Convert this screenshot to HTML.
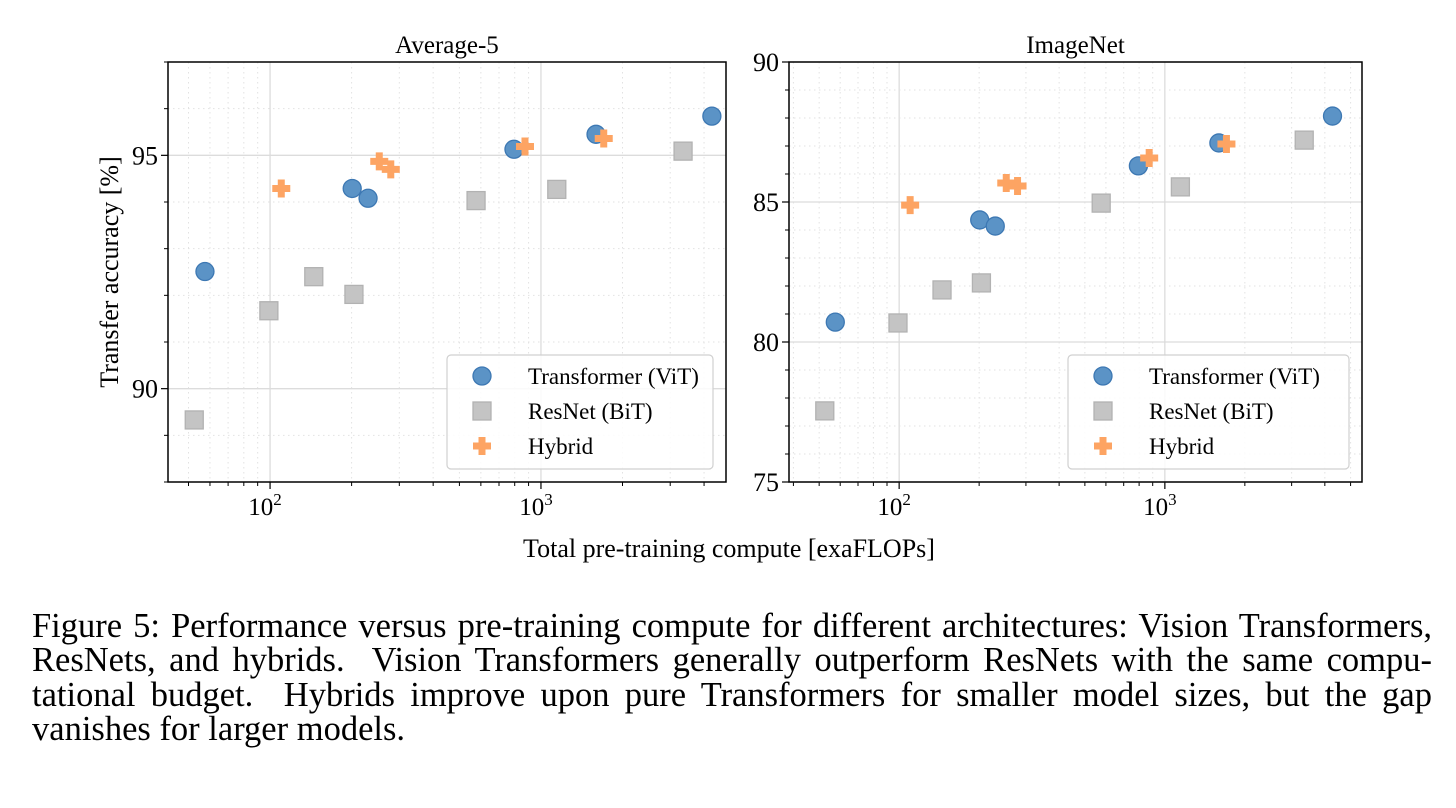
<!DOCTYPE html>
<html><head><meta charset="utf-8"><style>
body{margin:0;background:#fff;width:1456px;height:808px;overflow:hidden}
svg{font-family:"Liberation Serif",serif}
.cap{position:absolute;left:32px;top:609px;width:1400px;font-family:"Liberation Serif",serif;font-size:34.5px;line-height:34.3px;color:#000}
.cap div{text-align:justify;text-align-last:justify;white-space:nowrap}
.cap div.last{text-align-last:left}
</style></head><body>
<svg id="chart" width="1456" height="600" style="position:absolute;left:0;top:0"></svg>
<div class="cap">
<div style="white-space:normal">Figure 5: Performance versus pre-training compute for different architectures: Vision Transformers,</div>
<div style="white-space:normal">ResNets, and hybrids. &nbsp;Vision Transformers generally outperform ResNets with the same compu-</div>
<div style="white-space:normal">tational budget. &nbsp;Hybrids improve upon pure Transformers for smaller model sizes, but the gap</div>
<div class="last">vanishes for larger models.</div>
</div>
<script>
const vitX=[57.5,201,230,795,1597,4275];
const vitAvg=[92.51,94.29,94.08,95.13,95.45,95.84];
const vitIN=[80.71,84.36,84.14,86.29,87.11,88.07];
const resX=[52.5,99,145,204,576,1144,3346];
const resAvg=[89.33,91.67,92.40,92.02,94.03,94.27,95.09];
const resIN=[77.54,80.68,81.86,82.11,84.96,85.54,87.21];
const hybX=[110,253,279,873,1705];
const hybAvg=[94.29,94.87,94.70,95.19,95.36];
const hybIN=[84.89,85.68,85.57,86.57,87.07];
const avgTicks=[90,95];
const inTicks=[75,80,85,90];
const xTickLabels=["10","10"];

const NS="http://www.w3.org/2000/svg";
const svg=document.getElementById('chart');
function mk(t,a,p){const e=document.createElementNS(NS,t);for(const k in a)e.setAttribute(k,a[k]);(p||svg).appendChild(e);return e;}

function panel(cfg){
  const {x0,x1,y0,y1,xmin,xmax,ymin,ymax,title,ticks,vit,res,hyb,name,lx}=cfg;
  const g=mk('g',{});
  
  
  const X=v=>x0+(Math.log10(v)-Math.log10(xmin))/(Math.log10(xmax)-Math.log10(xmin))*(x1-x0);
  const Y=v=>y1-(v-ymin)/(ymax-ymin)*(y1-y0);
  for(let d=1;d<=3;d++)for(let m=1;m<10;m++){const v=m*Math.pow(10,d);if(v<xmin||v>xmax)continue;const x=X(v);
    if(m===1){mk('line',{x1:x,x2:x,y1:y0,y2:y1,stroke:'#dcdcdc','stroke-width':1.3},g);mk('line',{x1:x,x2:x,y1:y1,y2:y1+7,stroke:'#000','stroke-width':1.2},g);}
    else{mk('line',{x1:x,x2:x,y1:y0,y2:y1,stroke:'#e2e2e2','stroke-width':1,'stroke-dasharray':'1.5,3.5'},g);mk('line',{x1:x,x2:x,y1:y1,y2:y1+4,stroke:'#000','stroke-width':1},g);}
  }
  for(let v=Math.ceil(ymin);v<=ymax;v++){const y=Y(v);
    if(ticks.includes(v)){mk('line',{x1:x0,x2:x1,y1:y,y2:y,stroke:'#dcdcdc','stroke-width':1.3},g);mk('line',{x1:x0-7,x2:x0,y1:y,y2:y,stroke:'#000','stroke-width':1.2},g);
      const t=mk('text',{x:x0-10,y:y+9,'text-anchor':'end','font-size':26},g);t.textContent=v;}
    else{mk('line',{x1:x0,x2:x1,y1:y,y2:y,stroke:'#e2e2e2','stroke-width':1,'stroke-dasharray':'1.5,3.5'},g);mk('line',{x1:x0-4,x2:x0,y1:y,y2:y,stroke:'#000','stroke-width':1},g);}
  }
  [[100,'2'],[1000,'3']].forEach(([v,e],i)=>{const x=X(v);const t=mk('text',{x:x-5,y:y1+33,'text-anchor':'middle','font-size':25},g);t.textContent=xTickLabels[i];const s=mk('tspan',{dy:-10,'font-size':17},t);s.textContent=e;});
  mk('rect',{x:x0,y:y0,width:x1-x0,height:y1-y0,fill:'none',stroke:'#000','stroke-width':1.5},g);
  const tt=mk('text',{x:(x0+x1)/2,y:y0-9,'text-anchor':'middle','font-size':25},g);tt.textContent=title;
  const circ=(cx,cy,p)=>mk('circle',{cx,cy,r:9,fill:'#5b93c6',stroke:'#3d78b3','stroke-width':1.3},p);
  const sq=(cx,cy,p)=>mk('rect',{x:cx-9,y:cy-9,width:18,height:18,fill:'#c4c4c4',stroke:'#b2b2b2','stroke-width':1.3},p);
  const plus=(cx,cy,p)=>mk('path',{d:`M${cx-3.5},${cy-9}h7v5.5h5.5v7h-5.5v5.5h-7v-5.5h-5.5v-7h5.5z`,fill:'#fda463'},p);
  res.y.forEach((v,i)=>{const e=sq(X(res.x[i]),Y(v),g);});
  vit.y.forEach((v,i)=>{const e=circ(X(vit.x[i]),Y(v),g);});
  hyb.y.forEach((v,i)=>{const e=plus(X(hyb.x[i]),Y(v),g);});
  const ly=y1-127;
  const lg=mk('g',{},g);
  
  
  mk('rect',{x:lx,y:ly,width:x1-13-lx,height:114,rx:4,fill:'#fff','fill-opacity':0.85,stroke:'#d0d0d0','stroke-width':1.2},lg);
  const labels=['Transformer (ViT)','ResNet (BiT)','Hybrid'];const fns=[circ,sq,plus];
  labels.forEach((l,i)=>{const cy=ly+21+i*35;fns[i](lx+35,cy,lg);const t=mk('text',{x:lx+81,y:cy+8,'font-size':23},lg);t.textContent=l;});
}
panel({name:'average-5-panel',x0:168,x1:726,y0:62,y1:482,xmin:42,xmax:4820,ymin:88,ymax:97,title:'Average-5',ticks:avgTicks,lx:447,
  vit:{x:vitX,y:vitAvg},res:{x:resX,y:resAvg},hyb:{x:hybX,y:hybAvg}});
panel({name:'imagenet-panel',x0:789,x1:1362,y0:62,y1:482,xmin:38.5,xmax:5520,ymin:75,ymax:90,title:'ImageNet',ticks:inTicks,lx:1068,
  vit:{x:vitX,y:vitIN},res:{x:resX,y:resIN},hyb:{x:hybX,y:hybIN}});
const yl=mk('text',{x:0,y:0,'text-anchor':'middle','font-size':26,transform:'translate(118,272) rotate(-90)'});
yl.textContent='Transfer accuracy [%]';
const xl=mk('text',{x:729,y:557,'text-anchor':'middle','font-size':26});
xl.textContent='Total pre-training compute [exaFLOPs]';
</script>
</body></html>
